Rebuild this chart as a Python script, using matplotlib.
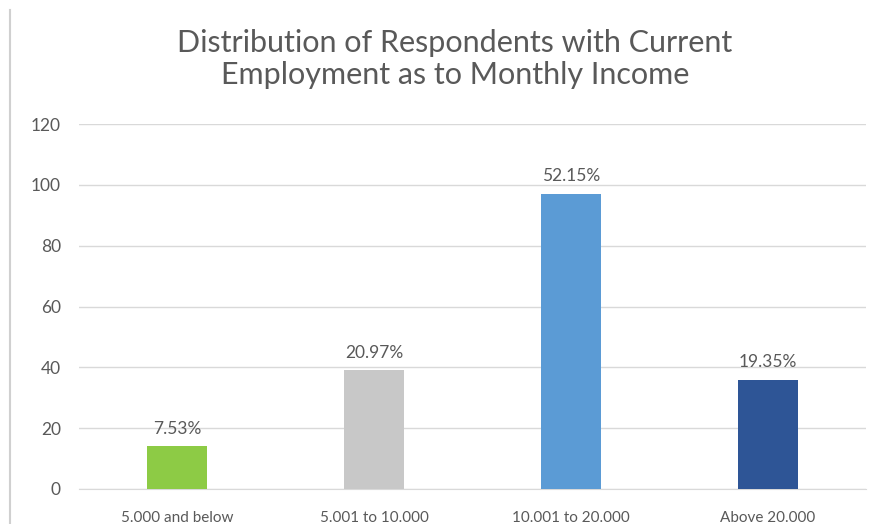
"""Bar chart of monthly income among respondents with current employment."""
import matplotlib.pyplot as plt
from matplotlib.lines import Line2D

CATEGORIES = ["5.000 and below", "5.001 to 10.000", "10.001 to 20.000", "Above 20.000"]
COUNTS = [14, 39, 97, 36]
PERCENT_LABELS = ["7.53%", "20.97%", "52.15%", "19.35%"]
COLORS = ["#8DCB45", "#C8C8C8", "#5B9BD5", "#2E5596"]
Y_TICKS = [0, 20, 40, 60, 80, 100, 120]

plt.rcParams.update({"font.family": ["Lato", "DejaVu Sans"]})

fig = plt.figure(figsize=(8.8, 5.24), dpi=100)
ax = fig.add_axes([0.0898, 0.0668, 0.8942, 0.6962])

x = range(len(CATEGORIES))
bars = ax.bar(x, COUNTS, width=0.305, color=COLORS, zorder=3)
for bar, label in zip(bars, PERCENT_LABELS):
    ax.annotate(label, (bar.get_x() + bar.get_width() / 2, bar.get_height()),
                xytext=(0, 7), textcoords="offset points", ha="center", va="bottom",
                fontsize=12.5, color="#595959")

ax.set_xlim(-0.5, len(CATEGORIES) - 0.5)
ax.set_ylim(0, 120)
ax.set_yticks(Y_TICKS)
ax.set_xticks(list(x), CATEGORIES)
ax.tick_params(axis="both", length=0, labelcolor="#595959")
ax.tick_params(axis="y", pad=13, labelsize=12.5)
ax.tick_params(axis="x", pad=16, labelsize=11)
ax.grid(axis="y", color="#D9D9D9", linewidth=1, zorder=0)
for side in ("top", "right", "left"):
    ax.spines[side].set_visible(False)
ax.spines["bottom"].set_color("#D9D9D9")

fig.text(0.517, 0.945, "Distribution of Respondents with Current\nEmployment as to Monthly Income",
         ha="center", va="top", fontsize=22, color="#595959", linespacing=1.2)

# thin frame edge on the left
fig.add_artist(Line2D([0.011, 0.011], [0.0, 0.98], color="#D0D0D0", linewidth=1.5))

fig.savefig("out.png", dpi=100)
